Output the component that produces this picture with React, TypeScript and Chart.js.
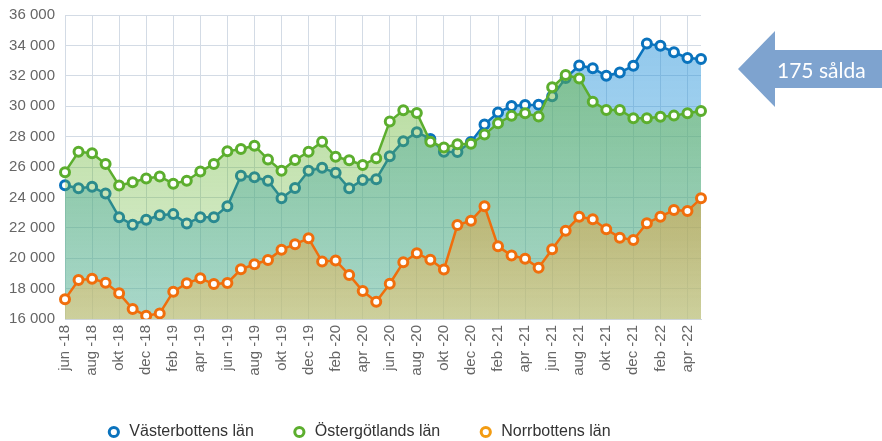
import React, { useEffect, useRef } from "react";
import { Chart, registerables } from "chart.js";

Chart.register(...registerables);

const months = [
  "jun -18", "jul -18", "aug -18", "sep -18", "okt -18", "nov -18", "dec -18",
  "jan -19", "feb -19", "mar -19", "apr -19", "maj -19", "jun -19", "jul -19", "aug -19", "sep -19", "okt -19", "nov -19", "dec -19",
  "jan -20", "feb -20", "mar -20", "apr -20", "maj -20", "jun -20", "jul -20", "aug -20", "sep -20", "okt -20", "nov -20", "dec -20",
  "jan -21", "feb -21", "mar -21", "apr -21", "maj -21", "jun -21", "jul -21", "aug -21", "sep -21", "okt -21", "nov -21", "dec -21",
  "jan -22", "feb -22", "mar -22", "apr -22", "maj -22",
];

const vasterbotten = [
  24800, 24600, 24700, 24250, 22700, 22200, 22530,
  22820, 22900, 22280, 22700, 22700, 23420, 25420, 25330, 25100, 23950, 24620, 25750,
  25950, 25620, 24600, 25150, 25200, 26700, 27700, 28290, 27850, 27000, 26980, 27650,
  28800, 29580, 30010, 30080, 30100, 30650, 31850, 32680, 32500, 32000, 32220, 32660,
  34120, 33970, 33550, 33170, 33100,
];

const ostergotland = [
  25660, 27000, 26900, 26190, 24780, 25000, 25250,
  25380, 24900, 25100, 25700, 26200, 27030, 27180, 27400, 26500, 25750, 26460, 27000,
  27660, 26670, 26440, 26130, 26580, 29000, 29730, 29560, 27660, 27280, 27500, 27530,
  28130, 28880, 29370, 29540, 29330, 31250, 32050, 31830, 30300, 29750, 29750, 29200,
  29200, 29310, 29380, 29530, 29690,
];

const norrbotten = [
  17300, 18560, 18650, 18390, 17690, 16660, 16220,
  16370, 17800, 18350, 18680, 18300, 18370, 19270, 19600, 19880, 20560, 20920, 21310,
  19780, 19850, 18900, 17840, 17140, 18320, 19730, 20320, 19900, 19250, 22180, 22470,
  23420, 20780, 20180, 19970, 19370, 20590, 21800, 22720, 22560, 21900, 21350, 21200,
  22300, 22730, 23170, 23100, 23940,
];

const seriesNames = ["Västerbottens län", "Östergötlands län", "Norrbottens län"];
const lineColors = ["#0a73bd", "#5cae2e", "#f06e0c"];
const legendColors = ["#0a73bd", "#5cae2e", "#f39c12"];

const yMin = 16000;
const yMax = 36000;
const yStep = 2000;

const arrowText = "175 sålda";

const FONT = "'Liberation Sans', Arial, sans-serif";
const GRID = "#d3dbe5";

function gradient(stops: [number, string][]) {
  return (ctx: any) => {
    const chart = ctx.chart;
    const area = chart.chartArea;
    if (!area) return stops[0][1];
    const g = chart.ctx.createLinearGradient(0, area.top, 0, area.bottom);
    stops.forEach(([o, c]) => g.addColorStop(o, c));
    return g;
  };
}

function fmt(v: number) {
  return String(v).replace(/\B(?=(\d{3})+(?!\d))/g, " ");
}

const shiftLegend = {
  id: "shiftLegend",
  afterLayout(chart: any) {
    const l = chart.legend;
    if (l) {
      l.left += 8;
      l.right += 8;
    }
  },
};

export default function App() {
  const ref = useRef<HTMLCanvasElement | null>(null);

  useEffect(() => {
    if (!ref.current) return;
    Chart.defaults.font.family = FONT;
    const fills = [
      gradient([
        [0, "rgba(30,140,215,0.5)"],
        [1, "rgba(60,170,225,0.35)"],
      ]),
      gradient([
        [0, "rgba(105,182,55,0.55)"],
        [1, "rgba(105,182,55,0.22)"],
      ]),
      gradient([
        [0, "rgba(225,140,30,0.45)"],
        [0.6, "rgba(228,150,40,0.45)"],
        [1, "rgba(240,200,110,0.5)"],
      ]),
    ];
    const data = [vasterbotten, ostergotland, norrbotten];
    const chart = new Chart(ref.current, {
      type: "line",
      data: {
        labels: months,
        datasets: data.map((d, i) => ({
          label: seriesNames[i],
          data: d,
          borderColor: lineColors[i],
          backgroundColor: fills[i],
          fill: "start",
          borderWidth: 2.5,
          tension: 0,
          pointRadius: 4.5,
          pointBorderWidth: 3,
          pointBackgroundColor: "#ffffff",
          pointBorderColor: lineColors[i],
          order: 3 - i,
        })),
      },
      plugins: [shiftLegend],
      options: {
        animation: false,
        responsive: false,
        layout: { padding: { top: 15, left: 0, right: 17, bottom: 0 } },
        plugins: {
          tooltip: { enabled: false },
          legend: {
            position: "bottom",
            labels: {
              usePointStyle: true,
              boxWidth: 15,
              boxHeight: 6.5,
              padding: 38,
              color: "#333",
              font: { size: 16, family: FONT },
              generateLabels: () =>
                seriesNames.map((n, i) => ({
                  text: n,
                  fillStyle: "#ffffff",
                  strokeStyle: legendColors[i],
                  lineWidth: 3,
                  pointStyle: "circle",
                  hidden: false,
                  datasetIndex: i,
                  fontColor: "#333",
                })),
            },
          },
        },
        scales: {
          x: {
            type: "category",
            offset: false,
            grid: {
              color: (c: any) => (c.index % 2 === 0 ? GRID : "rgba(0,0,0,0)"),
              drawTicks: false,
            },
            border: { display: true, color: "#cdd4dc" },
            ticks: {
              autoSkip: false,
              minRotation: 90,
              maxRotation: 90,
              padding: 6,
              color: "#666",
              font: { size: 15, family: FONT },
              callback: (_v: any, i: number) => (i % 2 === 0 ? months[i] : ""),
            },
            afterFit: (s: any) => {
              s.height = 67;
              s.paddingLeft = 0;
              s.paddingRight = 0;
            },
          },
          y: {
            min: yMin,
            max: yMax,
            grid: { color: GRID, drawTicks: false },
            border: { display: false },
            ticks: {
              stepSize: yStep,
              padding: 10,
              color: "#666",
              font: { size: 15, family: FONT },
              callback: (v: any) => fmt(Number(v)),
            },
            afterFit: (s: any) => {
              s.width = 65;
              s.paddingTop = 0;
              s.paddingBottom = 0;
            },
          },
        },
      },
    });
    return () => chart.destroy();
  }, []);

  return (
    <div
      style={{
        position: "absolute",
        left: 0,
        top: 0,
        width: 882,
        height: 441,
        overflow: "hidden",
        background: "#fff",
      }}
    >
      <canvas
        ref={ref}
        width={718}
        height={450}
        style={{ position: "absolute", left: 0, top: 0, width: 718, height: 450 }}
      />
      <svg
        width={882}
        height={441}
        style={{ position: "absolute", left: 0, top: 0 }}
      >
        <polygon
          points="738,69 775,31 775,50 882,50 882,88 775,88 775,107"
          fill="#7ea3cf"
        />
        <text
          x={777}
          y={78}
          fill="#ffffff"
          style={{ fontFamily: "Lato, 'Open Sans', sans-serif", fontSize: 21 }}
        >
          {arrowText}
        </text>
      </svg>
    </div>
  );
}
